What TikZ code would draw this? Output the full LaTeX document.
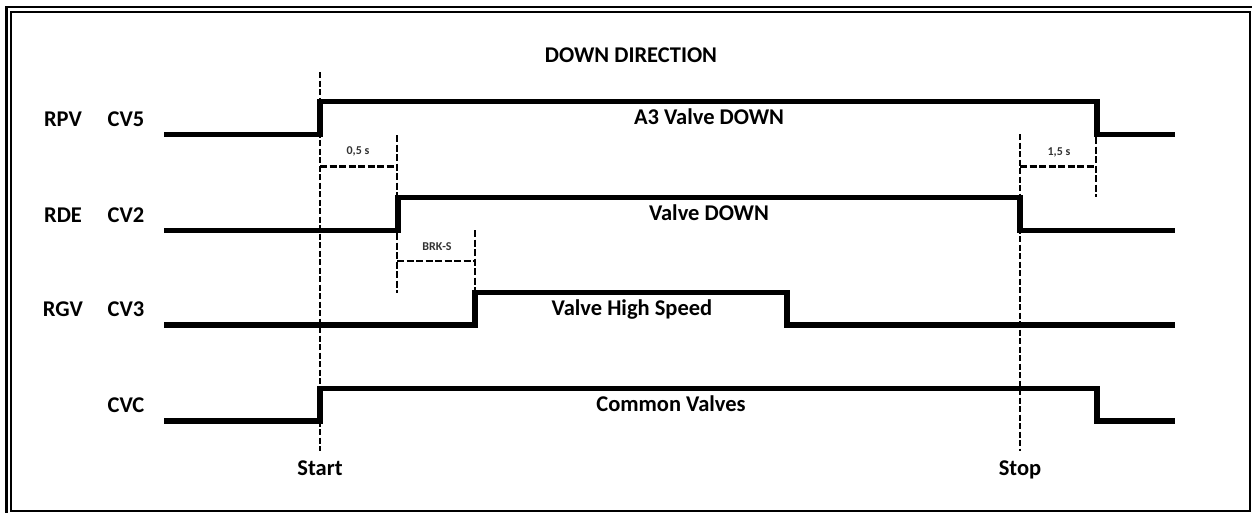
\documentclass[tikz,border=0pt]{standalone}
\usepackage{fontspec}
\setmainfont{Carlito}
\begin{document}
\begin{tikzpicture}[x=1pt,y=-1pt,
  sig/.style={line width=5.5pt,line join=miter,line cap=butt},
  guide/.style={line width=2.2pt,dash pattern=on 6pt off 2.5pt},
  meas/.style={line width=2.2pt,dash pattern=on 7pt off 2.5pt},
  lbl/.style={font=\fontsize{22.5}{26}\selectfont\bfseries,inner sep=0pt,anchor=base},
  small/.style={font=\fontsize{12}{14}\selectfont\bfseries,text=black!80,inner sep=0pt,anchor=base}]
\useasboundingbox (0,0) rectangle (1252,512);
% frame
\draw[line width=2.5pt] (6.5,7) rectangle (1258,518);
\draw[line width=2pt] (11,11.5) rectangle (1250,511);
% title
\node[lbl] (title) at (631,62) {DOWN DIRECTION};
% row labels
\node[lbl] (rpv) at (63,126) {RPV};
\node[lbl] (cv5) at (126,126) {CV5};
\node[lbl] (rde) at (63,222) {RDE};
\node[lbl] (cv2) at (126,222) {CV2};
\node[lbl] (rgv) at (63,316) {RGV};
\node[lbl] (cv3) at (126,316) {CV3};
\node[lbl] (cvc) at (126,412.5) {CVC};
% guide lines
\coordinate (st1) at (320,72);
\coordinate (st2) at (320,451);
\coordinate (sp1) at (1020,134);
\coordinate (sp2) at (1020,451);
\draw[guide] (st1) -- (st2);
\draw[guide] (sp1) -- (sp2);
\node[lbl] (start) at (320,475) {Start};
\node[lbl] (stop) at (1020,475) {Stop};
% signals
\draw[sig] (164,134.5) -- (320,134.5) -- (320,101.5) -- (1097,101.5) -- (1097,134.5) -- (1175,134.5);
\draw[sig] (164,230.5) -- (398,230.5) -- (398,197.5) -- (1020,197.5) -- (1020,230.5) -- (1175,230.5);
\draw[sig] (164,325) -- (475,325) -- (475,292.5) -- (787,292.5) -- (787,325) -- (1175,325);
\draw[sig] (164,421) -- (320,421) -- (320,388.5) -- (1097,388.5) -- (1097,421) -- (1175,421);
% signal labels
\node[lbl] (a3) at (709,124) {A3 Valve DOWN};
\node[lbl] (vd) at (709,220.5) {Valve DOWN};
\node[lbl] (vhs) at (632,315) {Valve High Speed};
\node[lbl] (cv) at (671,411) {Common Valves};
% 0,5 s
\draw[meas] (397,135) -- (397,198);
\draw[meas] (320,166.5) -- (397,166.5);
\node[small] (t05) at (358,154.5) {0,5 s};
% BRK-S
\draw[meas] (397,233) -- (397,293);
\draw[meas] (475,230) -- (475,292);
\draw[meas] (397,261) -- (475,261);
\node[small] (brk) at (437,250) {BRK-S};
% 1,5 s
\draw[meas] (1096,137) -- (1096,197);
\draw[meas] (1020,166.5) -- (1096,166.5);
\node[small] (t15) at (1059,155) {1,5 s};
\end{tikzpicture}
\end{document}
